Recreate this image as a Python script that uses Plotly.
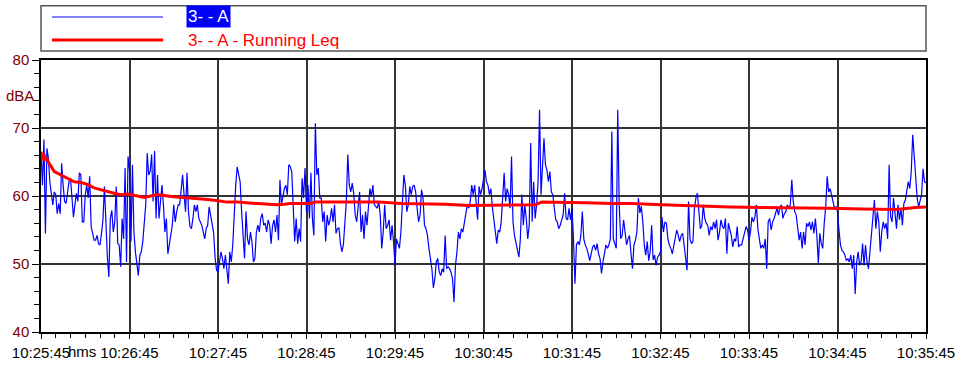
import plotly.graph_objects as go

# Sound level record, 1 s samples from 10:25:45 (seconds 0..600), dBA
levels_dba = [
    66.5, 61.6, 68.3, 54.5, 67.0, 65.6, 62.1, 60.6, 58.7, 60.6,
    60.2, 57.4, 58.9, 57.4, 64.8, 61.6, 59.2, 58.9, 60.6, 62.1,
    62.6, 59.2, 56.9, 58.7, 60.4, 59.2, 63.4, 63.1, 56.2, 56.2,
    60.2, 61.6, 59.7, 62.9, 55.5, 54.5, 53.5, 53.5, 54.2, 53.0,
    52.8, 54.5, 56.5, 61.4, 55.7, 51.0, 48.1, 56.7, 57.9, 54.7,
    56.2, 61.4, 53.0, 52.8, 49.6, 56.7, 53.7, 64.1, 50.3, 65.8,
    63.8, 53.3, 64.6, 54.7, 51.8, 49.8, 48.3, 51.3, 51.8, 53.3,
    56.7, 58.7, 66.3, 63.1, 63.6, 66.1, 59.2, 66.6, 56.7, 63.1,
    56.7, 58.7, 61.6, 58.7, 54.7, 56.7, 51.5, 52.8, 54.2, 55.7,
    58.7, 56.2, 57.7, 58.7, 58.7, 61.1, 63.1, 60.2, 57.7, 63.4,
    57.7, 55.5, 55.2, 56.7, 58.7, 57.7, 58.7, 56.7, 56.2, 55.7,
    54.7, 53.7, 55.2, 55.7, 58.4, 57.2, 55.7, 54.7, 51.0, 49.1,
    48.8, 50.3, 51.8, 50.8, 49.3, 51.3, 48.8, 47.1, 51.8, 50.3,
    52.8, 58.7, 61.6, 64.3, 63.1, 62.1, 57.7, 54.7, 50.8, 57.7,
    53.7, 52.8, 54.7, 53.3, 50.3, 50.8, 54.7, 55.7, 54.7, 56.7,
    57.4, 55.7, 56.0, 54.7, 56.5, 55.7, 53.0, 55.7, 56.5, 54.7,
    57.2, 53.5, 62.4, 58.7, 60.2, 61.1, 61.6, 60.2, 64.6, 64.3,
    63.6, 58.7, 53.3, 56.7, 53.0, 55.2, 53.3, 62.6, 59.7, 64.1,
    57.7, 61.6, 56.7, 63.4, 56.7, 54.2, 70.7, 63.1, 64.1, 59.7,
    59.7, 56.2, 57.7, 53.3, 57.2, 55.7, 56.5, 58.2, 56.2, 58.7,
    54.5, 55.2, 55.3, 53.0, 51.8, 52.8, 56.2, 59.2, 66.1, 61.6,
    60.6, 61.9, 60.4, 57.2, 56.2, 58.7, 60.6, 54.7, 57.2, 53.7,
    57.7, 55.7, 58.7, 61.1, 59.9, 61.6, 58.7, 58.5, 58.2, 59.2,
    57.2, 52.3, 54.7, 58.7, 55.2, 55.7, 56.5, 53.5, 55.7, 53.3,
    49.8, 53.7, 52.8, 52.3, 54.7, 58.7, 63.1, 61.6, 57.7, 58.7,
    61.4, 60.2, 61.4, 61.6, 60.6, 58.2, 56.2, 57.2, 60.9, 59.7,
    55.7, 55.2, 54.2, 52.3, 50.8, 49.3, 46.5, 47.8, 50.3, 50.8,
    48.8, 48.3, 49.3, 48.8, 54.2, 49.3, 49.6, 49.3, 48.8, 47.8,
    44.4, 49.8, 51.8, 54.7, 53.7, 55.2, 54.7, 56.2, 57.5, 58.7,
    58.2, 59.2, 61.6, 60.2, 61.6, 58.7, 56.5, 61.4, 60.2, 61.1,
    62.6, 63.8, 62.1, 61.6, 60.2, 61.1, 58.4, 56.7, 54.2, 53.0,
    55.0, 54.7, 56.2, 60.2, 63.4, 59.2, 61.1, 60.2, 58.2, 65.8,
    56.2, 54.2, 53.0, 51.8, 51.0, 53.7, 60.2, 55.7, 58.7, 56.7,
    53.7, 55.7, 67.8, 56.2, 62.1, 56.7, 58.7, 62.1, 72.7, 60.2,
    64.6, 68.5, 64.6, 63.8, 62.1, 63.6, 60.6, 60.2, 58.2, 56.5,
    56.2, 55.2, 55.7, 56.5, 57.2, 60.4, 56.7, 56.5, 58.2, 56.5,
    58.2, 53.7, 47.1, 52.8, 53.3, 52.8, 54.2, 57.7, 53.7, 52.8,
    52.3, 51.5, 50.5, 51.5, 52.5, 52.8, 52.0, 53.0, 51.5, 50.8,
    48.6, 50.3, 51.8, 52.8, 52.3, 52.8, 53.7, 69.5, 53.7, 52.8,
    52.3, 72.7, 58.7, 53.7, 54.2, 56.5, 54.7, 52.8, 53.7, 54.2,
    51.5, 49.3, 52.8, 53.5, 54.7, 59.7, 57.5, 58.5, 56.2, 52.8,
    51.3, 53.3, 50.5, 51.8, 55.7, 50.6, 51.3, 49.8, 51.0, 51.3,
    51.8, 56.9, 54.7, 56.2, 56.0, 53.7, 52.8, 52.3, 51.5, 52.8,
    54.0, 55.0, 54.2, 53.3, 54.2, 54.5, 52.8, 51.3, 49.1, 59.2,
    53.7, 53.0, 53.3, 58.2, 59.7, 60.4, 58.2, 55.2, 55.7, 58.7,
    56.7, 56.0, 55.7, 54.2, 55.5, 55.0, 56.2, 55.2, 56.5, 53.5,
    54.7, 56.5, 55.5, 55.2, 56.7, 51.5, 56.0, 55.2, 54.2, 52.5,
    53.7, 53.3, 55.5, 52.5, 52.8, 52.8, 53.7, 54.2, 55.5, 55.0,
    53.5, 54.7, 56.9, 56.2, 56.9, 58.7, 55.2, 53.7, 52.3, 52.8,
    52.3, 53.7, 49.3, 56.2, 56.7, 55.0, 56.2, 56.7, 57.7, 58.2,
    57.2, 58.4, 58.7, 56.7, 57.4, 57.7, 58.7, 58.2, 58.7, 62.4,
    59.2, 57.7, 57.2, 55.5, 53.5, 54.7, 52.3, 54.7, 52.8, 56.0,
    55.5, 56.2, 55.0, 56.2, 54.5, 56.7, 54.2, 50.1, 54.5, 53.0,
    52.3, 56.0, 58.4, 62.9, 60.6, 61.1, 60.2, 59.2, 58.2, 58.4,
    57.7, 55.0, 52.8, 52.0, 51.8, 51.3, 50.5, 50.8, 50.3, 51.3,
    49.3, 51.3, 45.6, 50.3, 51.8, 49.8, 50.3, 53.0, 49.8, 52.8,
    50.3, 49.3, 51.8, 54.7, 56.5, 59.4, 55.2, 57.7, 56.2, 51.8,
    54.7, 56.2, 55.2, 56.0, 53.7, 64.6, 57.0, 56.2, 59.7, 57.7,
    55.2, 58.7, 56.5, 58.2, 55.7, 58.9, 59.4, 60.8, 62.1, 61.1,
    63.6, 69.0, 65.6, 62.6, 59.7, 58.4, 59.2, 60.2, 64.0, 62.1,
    61.9,
]
sample_seconds = list(range(len(levels_dba)))

# Running Leq read at its turning points (elapsed seconds, dBA)
leq_seconds = [0, 1, 2, 3, 4, 5, 9, 13.5, 18, 22.6, 27, 31.6, 36, 40.6, 45,
               49.6, 54, 58.7, 65.4, 70, 74.4, 79, 90, 97, 104, 113, 120, 126,
               133, 140, 147, 153, 160, 165, 169, 183, 186, 200, 229, 244.5,
               274, 290, 312, 335, 339.4, 346, 369, 387, 400, 421, 444, 467,
               489, 511, 534, 557, 580, 593, 600]
leq_dba = [66.5, 65.3, 66.2, 65.2, 65.6, 65.0, 63.6, 63.1, 62.5, 62.1, 62.0,
           61.7, 61.2, 60.9, 60.6, 60.4, 60.2, 60.3, 60.0, 59.8, 60.0, 60.2,
           59.9, 59.8, 59.7, 59.5, 59.3, 59.1, 59.1, 59.0, 58.9, 58.8, 58.7,
           58.8, 58.9, 58.9, 59.1, 59.1, 59.1, 58.9, 58.8, 58.6, 58.6, 58.7,
           59.1, 59.1, 59.0, 58.9, 58.9, 58.7, 58.5, 58.4, 58.3, 58.3, 58.2,
           58.1, 58.0, 58.3, 58.4]

tick_seconds = [0, 60, 120, 180, 240, 300, 360, 420, 480, 540, 600]
tick_labels = ["10:25:45", "10:26:45", "10:27:45", "10:28:45", "10:29:45",
               "10:30:45", "10:31:45", "10:32:45", "10:33:45", "10:34:45",
               "10:35:45"]

series_name = "3- - A"
leq_name = "3- - A - Running Leq"

FONT = "Liberation Sans, Arial, sans-serif"
NARROW = "Liberation Sans Narrow, Arial Narrow, Liberation Sans, Arial, sans-serif"
AXIS_RED = "#800000"
GRID = "#333333"

fig = go.Figure()
fig.add_trace(go.Scatter(x=sample_seconds, y=levels_dba, mode="lines",
                         name=series_name,
                         line=dict(color="#0000FF", width=1.2)))
fig.add_trace(go.Scatter(x=leq_seconds, y=leq_dba, mode="lines",
                         name=leq_name,
                         line=dict(color="#FF0000", width=3)))

fig.update_layout(
    width=963, height=365,
    margin=dict(l=41, r=37, t=60, b=33, pad=0, autoexpand=False),
    paper_bgcolor="white", plot_bgcolor="white",
    showlegend=False,
    font=dict(family=FONT, size=15, color="black"),
)

fig.update_xaxes(
    range=[0, 600], tickvals=tick_seconds, ticktext=tick_labels,
    automargin=False,
    ticks="outside", ticklen=5, tickwidth=1, tickcolor="black",
    ticklabelstandoff=1,
    minor=dict(dtick=10, ticks="outside", ticklen=4, tickcolor="black",
               showgrid=False),
    showgrid=True, gridcolor=GRID, gridwidth=1.5,
    showline=True, linecolor="black", linewidth=1.5, mirror=True,
    zeroline=False,
    tickfont=dict(family=FONT, size=15, color="black"),
)
fig.update_yaxes(
    range=[40, 80], dtick=10, tick0=40,
    automargin=False,
    ticks="outside", ticklen=7, tickwidth=1, tickcolor="black",
    minor=dict(dtick=2, ticks="outside", ticklen=5, tickcolor="black",
               showgrid=False),
    showgrid=True, gridcolor=GRID, gridwidth=1.5,
    showline=True, linecolor="black", linewidth=1.5, mirror=True,
    zeroline=False,
    tickfont=dict(family=FONT, size=15, color=AXIS_RED),
)

# Legend panel above the plot (paper coordinates)
fig.add_shape(type="rect", xref="paper", yref="paper",
              x0=0, x1=1, y0=1.0331, y1=1.1996,
              line=dict(color="#555555", width=1.5), fillcolor="white",
              layer="above")
fig.add_shape(type="line", xref="paper", yref="paper",
              x0=0.0124, x1=0.1379, y0=1.1581, y1=1.1581,
              line=dict(color="#0000FF", width=1.2))
fig.add_shape(type="line", xref="paper", yref="paper",
              x0=0.0124, x1=0.1379, y0=1.0735, y1=1.0735,
              line=dict(color="#FF0000", width=3))
fig.add_annotation(xref="paper", yref="paper", x=0.1638, y=1.1581,
                   xanchor="left", yanchor="middle", showarrow=False,
                   text=series_name, bgcolor="#0000FF", borderpad=1,
                   font=dict(family=NARROW, size=17, color="white"))
fig.add_annotation(xref="paper", yref="paper", x=0.1638, y=1.0735,
                   xanchor="left", yanchor="middle", showarrow=False,
                   text=leq_name,
                   font=dict(family=NARROW, size=17, color="#FF0000"))

# Axis unit and the time-format suffix on the first tick
fig.add_annotation(xref="paper", yref="paper", x=-0.0237, y=0.8713,
                   xanchor="center", yanchor="middle", showarrow=False,
                   text="dBA", font=dict(family=FONT, size=15, color=AXIS_RED))
fig.add_annotation(xref="paper", yref="paper", x=0, y=0,
                   xanchor="left", yanchor="top", xshift=25, yshift=-9,
                   showarrow=False, text="hms",
                   font=dict(family=FONT, size=15, color="black"))

fig.write_html("out.html")
